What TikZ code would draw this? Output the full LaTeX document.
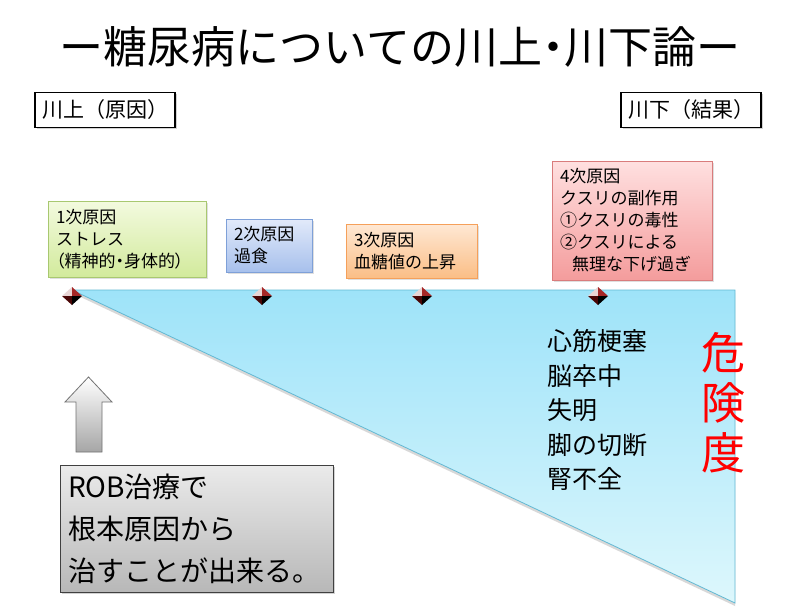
\documentclass[tikz,border=0pt]{standalone}
\usepackage{fontspec}
\setmainfont{Noto Sans CJK JP}
\newfontfamily\pfont[RawFeature=+palt]{Noto Sans CJK JP}
\usetikzlibrary{shadows}
\definecolor{gtop}{HTML}{F3FADF}\definecolor{gbot}{HTML}{D2EA9C}\definecolor{gedge}{HTML}{A8C870}
\definecolor{btop}{HTML}{E2EAFA}\definecolor{bbot}{HTML}{A7C0EC}\definecolor{bedge}{HTML}{7EA0D8}
\definecolor{otop}{HTML}{FEE8D4}\definecolor{obot}{HTML}{FBBE86}\definecolor{oedge}{HTML}{F5A05A}
\definecolor{ptop}{HTML}{FFE0E0}\definecolor{pbot}{HTML}{F49C9C}\definecolor{pedge}{HTML}{D97C7C}
\definecolor{ttop}{HTML}{9EE3F9}\definecolor{tbot}{HTML}{DDF7FC}\definecolor{tedge}{HTML}{62B9D4}
\definecolor{mlight}{HTML}{E9D6D6}\definecolor{mred}{HTML}{A52828}\definecolor{mdark}{HTML}{4A0606}
\begin{document}
\begin{tikzpicture}[x=1pt,y=-1pt,
  lbl/.style={draw=black, line width=1.2pt, fill=white, minimum width=140pt, minimum height=35pt,
    inner sep=0pt, font=\fontsize{21}{21}\selectfont,
    drop shadow={shadow xshift=2pt,shadow yshift=-2pt,opacity=.35}},
  causebox/.style={line width=0.8pt, inner xsep=8pt, inner ysep=0pt, align=left,
    font=\fontsize{17}{22}\selectfont,
    drop shadow={shadow xshift=2pt,shadow yshift=-2pt,opacity=.25}},
  pics/marker/.style={code={
    \fill[mlight] (0,-9) -- (-10,0) -- (0,0) -- cycle;
    \fill[mred] (0,-9) -- (10,0) -- (0,0) -- cycle;
    \fill[mdark] (-10,0) -- (0,9) -- (0,0) -- cycle;
    \fill[black] (10,0) -- (0,9) -- (0,0) -- cycle;
  }}]
\useasboundingbox[fill=white] (0,0) rectangle (800,607);

% title
\node (title) at (400,47) {\fontsize{44}{44}\selectfont ー糖尿病についての川上{\pfont ・}川下論ー};

% labels
\node[lbl] (up) at (105,110) {川上（原因）};
\node[lbl] (down) at (691,110) {川下（結果）};

% triangle
\coordinate (tA) at (72,290);
\coordinate (tB) at (735,290);
\coordinate (tC) at (735,603);
\path[drop shadow={shadow xshift=0pt,shadow yshift=-3pt,opacity=.3},
  top color=ttop, bottom color=tbot, draw=tedge, line width=0.8pt] (tA) -- (tB) -- (tC) -- cycle;

% markers
\coordinate (m1) at (72,296);
\coordinate (m2) at (262,296);
\coordinate (m3) at (422,296);
\coordinate (m4) at (598,296);
\foreach \m in {m1,m2,m3,m4} \pic at (\m) {marker};

% cause boxes
\node[causebox, top color=gtop, bottom color=gbot, draw=gedge, minimum width=158pt, minimum height=76pt, text width=142pt]
  (c1) at (127,239) {1次原因\\ストレス\\{\pfont （精神的・身体的）}};
\node[causebox, top color=btop, bottom color=bbot, draw=bedge, minimum width=86pt, minimum height=53pt, text width=70pt, inner xsep=8pt]
  (c2) at (269,245.5) {2次原因\\過食};
\node[causebox, top color=otop, bottom color=obot, draw=oedge, minimum width=131pt, minimum height=54pt, text width=115pt]
  (c3) at (411.5,251) {3次原因\\血糖値の上昇};
\node[causebox, top color=ptop, bottom color=pbot, draw=pedge, minimum width=160pt, minimum height=119pt, text width=144pt]
  (c4) at (632,220.5) {4次原因\\クスリの副作用\\①クスリの毒性\\②クスリによる\\\hspace*{12pt}無理な下げ過ぎ};

% outcomes
\node[anchor=west, align=left, inner sep=0pt, font=\fontsize{25}{34.5}\selectfont]
  (risks) at (547,410) {心筋梗塞\\脳卒中\\失明\\脚の切断\\腎不全};

% danger
\node[align=center, inner sep=0pt, text=red, font=\fontsize{44}{50}\selectfont]
  (danger) at (723,403) {危\\険\\度};

% up arrow
\path[top color=white, bottom color=black!35, draw=black!55, line width=0.8pt]
  (88.5,377) -- (112,402) -- (102,402) -- (102,452) -- (76,452) -- (76,402) -- (65,402) -- cycle;

% ROB box
\node[draw=black!75, line width=1pt, top color=black!8, bottom color=black!28,
  minimum width=273pt, minimum height=127pt, text width=257pt, inner xsep=8pt, inner ysep=0pt,
  align=left, font=\fontsize{28}{42}\selectfont,
  drop shadow={shadow xshift=2pt,shadow yshift=-2pt,opacity=.35}]
  (rob) at (196.5,528.5) {ROB治療で\\根本原因から\\治すことが出来る。};
\end{tikzpicture}
\end{document}
